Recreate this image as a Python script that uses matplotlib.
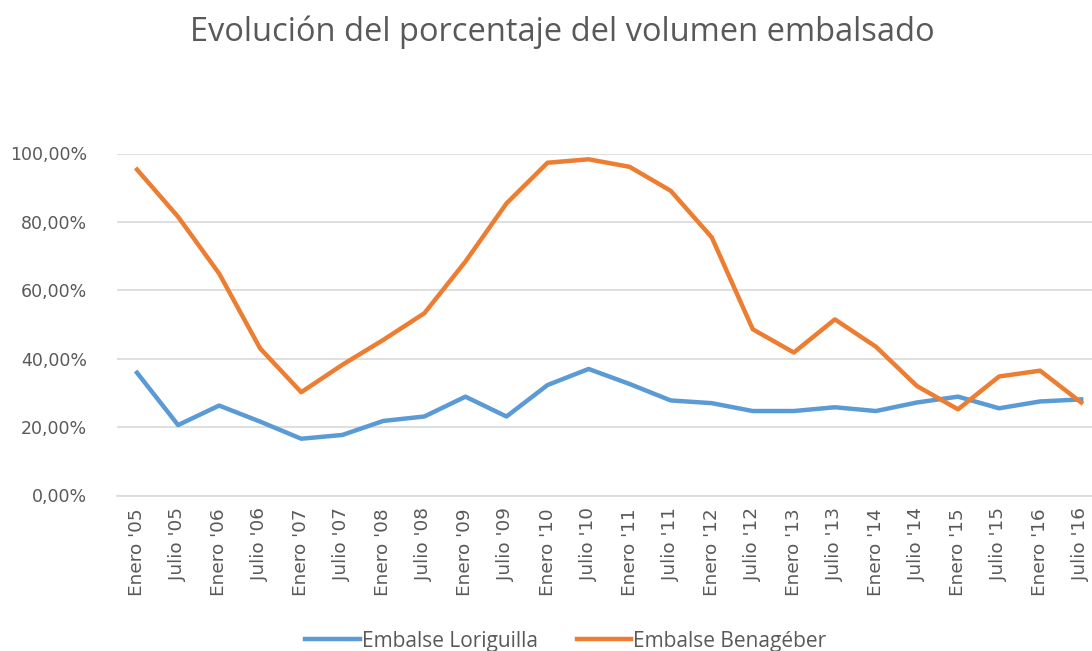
import matplotlib.pyplot as plt
from matplotlib.ticker import FuncFormatter

# categories (semester labels)
years = ["05", "06", "07", "08", "09", "10", "11", "12", "13", "14", "15", "16"]
labels = []
for y in years:
    labels.append("Enero '" + y)
    labels.append("Julio '" + y)

# percentages
loriguilla = [35.9, 20.6, 26.3, 21.6, 16.6, 17.7, 21.8, 23.1, 28.9, 23.1, 32.3, 37.0,
              32.6, 27.8, 27.0, 24.7, 24.7, 25.8, 24.7, 27.2, 28.9, 25.5, 27.5, 28.1]
benageber = [95.3, 81.5, 64.9, 43.0, 30.2, 38.2, 45.5, 53.3, 68.4, 85.4, 97.3, 98.3,
             96.1, 89.1, 75.5, 48.6, 41.8, 51.5, 43.5, 32.0, 25.2, 34.8, 36.5, 27.2]

blue = "#5B9BD5"
orange = "#ED7D31"
grey = "#595959"

plt.rcParams["font.family"] = ["DejaVu Sans"]

fig = plt.figure(figsize=(10.92, 6.51), dpi=100)
W, H = 1092, 651
left = 116.5 / W
width = 24 * 41.05 / W
bottom = 1 - 495.5 / H
height = (495.5 - 153.5) / H
ax = fig.add_axes([left, bottom, width, height])

x = list(range(len(labels)))
ax.plot(x, [v / 100 for v in loriguilla], color=blue, lw=3.2,
        label="Embalse Loriguilla", clip_on=False, solid_joinstyle="round")
ax.plot(x, [v / 100 for v in benageber], color=orange, lw=3.2,
        label="Embalse Benagéber", clip_on=False, solid_joinstyle="round")

ax.set_xlim(-0.5, len(labels) - 0.5)
ax.set_ylim(0, 1.0)
ax.set_yticks([0, 0.2, 0.4, 0.6, 0.8, 1.0])
ax.yaxis.set_major_formatter(FuncFormatter(lambda v, p: f"{v * 100:.2f}%".replace(".", ",")))
ax.set_xticks(x)
ax.set_xticklabels(labels, rotation=90, va="top", ha="center")

ax.grid(axis="y", color="#D9D9D9", lw=1.2)
ax.set_axisbelow(True)
for s in ["top", "right", "left"]:
    ax.spines[s].set_visible(False)
ax.spines["bottom"].set_color("#D9D9D9")
ax.spines["bottom"].set_linewidth(1.2)
ax.tick_params(axis="y", length=0, colors=grey, labelsize=12.5, pad=21)
ax.tick_params(axis="x", length=0, colors=grey, labelsize=13.3, pad=9)

fig.text(562 / W, 1 - 32 / H, "Evolución del porcentaje del volumen embalsado",
         ha="center", va="center", fontsize=23.5, color=grey, family="Open Sans")

fig.legend(loc="center", bbox_to_anchor=(566 / W, 1 - 641 / H), ncol=2, frameon=False,
           prop={"family": "Open Sans", "size": 15}, handlelength=2.6, handletextpad=0.1,
           columnspacing=1.9, labelcolor=grey)

fig.savefig("out.png", dpi=100)
